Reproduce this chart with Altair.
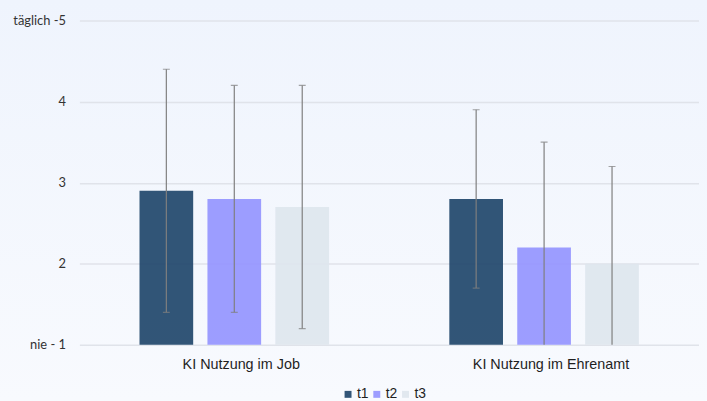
import altair as alt
import pandas as pd

categories = ["KI Nutzung im Job", "KI Nutzung im Ehrenamt"]
series = ["t1", "t2", "t3"]
means = {
    "t1": [2.9, 2.8],
    "t2": [2.8, 2.2],
    "t3": [2.7, 2.0],
}
sds = {
    "t1": [1.5, 1.1],
    "t2": [1.4, 1.3],
    "t3": [1.5, 1.2],
}
y_ticks = [1, 2, 3, 4, 5]
colors = ["#1c4268", "#9292ff", "#dee5ed"]

rows = []
for s in series:
    for i, c in enumerate(categories):
        m = means[s][i]
        sd = sds[s][i]
        rows.append({"cat": c, "t": s, "mean": m, "lo": m - sd, "hi": m + sd})
df = pd.DataFrame(rows)

x = alt.X("cat:N", sort=categories, title=None,
          scale=alt.Scale(paddingInner=0, paddingOuter=0),
          axis=alt.Axis(labelAngle=0, ticks=False, domain=False, labelPadding=13, labelOffset=7,
                        labelFontSize=14.5, labelFont="Liberation Sans", labelColor="#1f1f1f"))
xo = alt.XOffset("t:N", sort=series,
                 scale=alt.Scale(paddingInner=0.21, paddingOuter=0.885))

y = alt.Y("mean:Q", title=None,
          scale=alt.Scale(domain=[1, 5], zero=False, nice=False),
          axis=alt.Axis(values=y_ticks, ticks=False, domain=False, labelPadding=14,
                        labelFontSize=13, labelFont="Lato", labelColor="#333333",
                        gridColor="#e0e3ea", gridWidth=1.5,
                        labelExpr="datum.value == 5 ? 'täglich -5' : datum.value == 1 ? 'nie - 1' : format(datum.value, 'd')"))

bars = alt.Chart(df).mark_bar(opacity=0.9).encode(
    x=x, xOffset=xo, y=y, y2=alt.datum(1),
    color=alt.Color("t:N", sort=series, scale=alt.Scale(domain=series, range=colors),
                    legend=alt.Legend(title=None, orient="none", direction="horizontal",
                                      legendX=264, legendY=370, symbolType="square",
                                      symbolSize=49, symbolStrokeWidth=0, symbolOpacity=0.9,
                                      labelFontSize=14, labelFont="Liberation Sans",
                                      labelColor="#1f1f1f", labelOffset=2, columnPadding=1)),
)

rules = alt.Chart(df).mark_rule(color="#7f7f7f", strokeWidth=1.2, clip=True).encode(
    x=x, xOffset=xo, y=alt.Y("lo:Q"), y2="hi:Q"
)
caps_hi = alt.Chart(df).mark_tick(color="#7f7f7f", thickness=1.2, size=7, clip=True).encode(
    x=x, xOffset=xo, y=alt.Y("hi:Q")
)
caps_lo = alt.Chart(df).mark_tick(color="#7f7f7f", thickness=1.2, size=7, clip=True).encode(
    x=x, xOffset=xo, y=alt.Y("lo:Q")
)

chart = alt.layer(bars, rules, caps_hi, caps_lo).properties(
    width=625, height=327,
    autosize=alt.AutoSizeParams(type="none"),
    padding={"left": 72, "top": 11, "right": 0, "bottom": 55},
).configure(background="transparent").configure_view(stroke=None)

save_kwargs = {}
try:
    import jinja2
    _html = chart.to_html(embed_options={"renderer": "svg", "actions": False})
    _style = ("<style>html,body{min-height:100%;height:100%;}"
              "body{background:linear-gradient(#eff4fd,#f8fafe);}</style>")
    _html = _html.replace("<head>", "<head>\n" + _style, 1)
    save_kwargs["template"] = jinja2.Template("{% raw %}" + _html + "{% endraw %}")
except Exception:
    save_kwargs = {}

chart.save("out.html", embed_options={"renderer": "svg", "actions": False}, **save_kwargs)
